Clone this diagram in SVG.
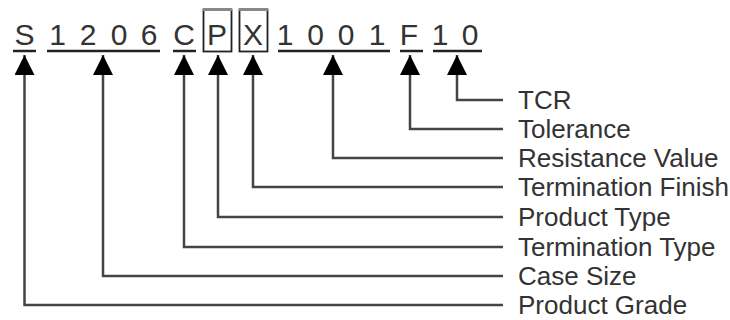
<svg xmlns="http://www.w3.org/2000/svg" width="730" height="320" viewBox="0 0 730 320">
<defs>
<style>
.code{font-family:"Liberation Sans",Arial,sans-serif;font-size:30px;fill:#333;text-anchor:middle}
.lbl{font-family:"Liberation Sans",Arial,sans-serif;font-size:26px;fill:#333}
.ul{stroke:#222;stroke-width:2.5;fill:none}
.box{stroke:#222;stroke-width:1.8;fill:none}
.con{stroke:#444;stroke-width:2.5;fill:none}
</style>
<marker id="arr" viewBox="0 0 20 20" refX="20" refY="10" markerWidth="20" markerHeight="20" markerUnits="userSpaceOnUse" orient="auto-start-reverse">
<path d="M0,0 L20,10 L0,20 Z" fill="#000"/>
</marker>
</defs>
<rect width="730" height="320" fill="#fff"/>
<g id="code">
<text class="code" x="24.5" y="45">S</text>
<line class="ul" x1="13" y1="51" x2="36" y2="51"/>
<text class="code" x="57.5" y="45">1</text>
<text class="code" x="88" y="45">2</text>
<text class="code" x="119" y="45">0</text>
<text class="code" x="149" y="45">6</text>
<line class="ul" x1="47" y1="51" x2="160" y2="51"/>
<text class="code" x="184" y="45">C</text>
<line class="ul" x1="173" y1="51" x2="196" y2="51"/>
<text class="code" x="217" y="45">P</text>
<rect class="box" x="203.5" y="9.5" width="28" height="42"/>
<line x1="203" y1="9.5" x2="232" y2="9.5" stroke="#888" stroke-width="3"/>
<text class="code" x="253" y="45">X</text>
<rect class="box" x="239.5" y="9.5" width="28" height="42"/>
<line x1="239" y1="9.5" x2="268" y2="9.5" stroke="#888" stroke-width="3"/>
<text class="code" x="285" y="45">1</text>
<text class="code" x="315.5" y="45">0</text>
<text class="code" x="346" y="45">0</text>
<text class="code" x="377" y="45">1</text>
<line class="ul" x1="278" y1="51" x2="390" y2="51"/>
<text class="code" x="409" y="45">F</text>
<line class="ul" x1="400" y1="51" x2="423" y2="51"/>
<text class="code" x="440" y="45">1</text>
<text class="code" x="470" y="45">0</text>
<line class="ul" x1="433" y1="51" x2="482" y2="51"/>
</g>
<g id="connectors">
<path class="con" marker-start="url(#arr)" d="M457,55 V100 H503"/>
<path class="con" marker-start="url(#arr)" d="M410,55 V129 H503"/>
<path class="con" marker-start="url(#arr)" d="M333,55 V158 H503"/>
<path class="con" marker-start="url(#arr)" d="M253,55 V187 H503"/>
<path class="con" marker-start="url(#arr)" d="M218,55 V217 H503"/>
<path class="con" marker-start="url(#arr)" d="M184,55 V247 H503"/>
<path class="con" marker-start="url(#arr)" d="M103,55 V276 H503"/>
<path class="con" marker-start="url(#arr)" d="M24.5,55 V305 H503"/>
</g>
<g id="labels">
<text class="lbl" x="518" y="109">TCR</text>
<text class="lbl" x="518" y="138">Tolerance</text>
<text class="lbl" x="518" y="167">Resistance Value</text>
<text class="lbl" x="518" y="196">Termination Finish</text>
<text class="lbl" x="518" y="226">Product Type</text>
<text class="lbl" x="518" y="256">Termination Type</text>
<text class="lbl" x="518" y="285">Case Size</text>
<text class="lbl" x="518" y="314">Product Grade</text>
</g>
</svg>
